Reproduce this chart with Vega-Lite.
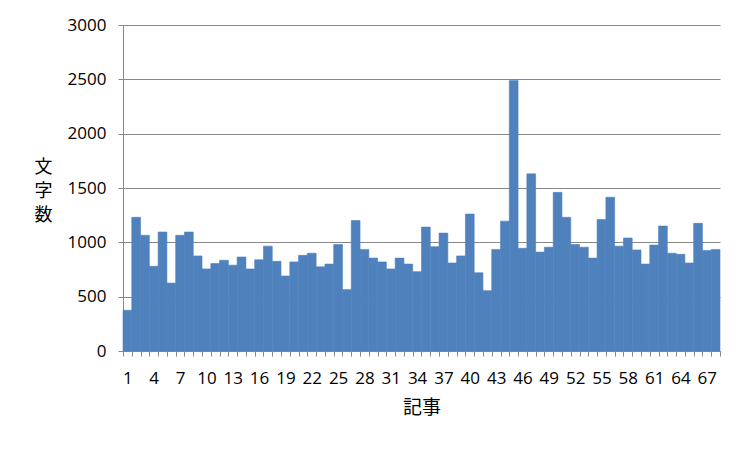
{
  "$schema": "https://vega.github.io/schema/vega-lite/v6.json",
  "width": 597,
  "height": 326,
  "autosize": "none",
  "padding": {"left": 123, "top": 25, "right": 29, "bottom": 100},
  "background": "white",
  "config": {"view": {"stroke": null}},
  "data": {"values": [
    {"n": 1, "v": 375}, {"n": 2, "v": 1230}, {"n": 3, "v": 1065}, {"n": 4, "v": 780},
    {"n": 5, "v": 1095}, {"n": 6, "v": 625}, {"n": 7, "v": 1065}, {"n": 8, "v": 1095},
    {"n": 9, "v": 875}, {"n": 10, "v": 755}, {"n": 11, "v": 805}, {"n": 12, "v": 835},
    {"n": 13, "v": 790}, {"n": 14, "v": 865}, {"n": 15, "v": 755}, {"n": 16, "v": 840},
    {"n": 17, "v": 965}, {"n": 18, "v": 825}, {"n": 19, "v": 690}, {"n": 20, "v": 820},
    {"n": 21, "v": 880}, {"n": 22, "v": 900}, {"n": 23, "v": 775}, {"n": 24, "v": 800},
    {"n": 25, "v": 980}, {"n": 26, "v": 565}, {"n": 27, "v": 1200}, {"n": 28, "v": 935},
    {"n": 29, "v": 855}, {"n": 30, "v": 820}, {"n": 31, "v": 755}, {"n": 32, "v": 855},
    {"n": 33, "v": 800}, {"n": 34, "v": 730}, {"n": 35, "v": 1140}, {"n": 36, "v": 960},
    {"n": 37, "v": 1085}, {"n": 38, "v": 810}, {"n": 39, "v": 875}, {"n": 40, "v": 1260},
    {"n": 41, "v": 720}, {"n": 42, "v": 555}, {"n": 43, "v": 935}, {"n": 44, "v": 1195},
    {"n": 45, "v": 2490}, {"n": 46, "v": 945}, {"n": 47, "v": 1630}, {"n": 48, "v": 910},
    {"n": 49, "v": 955}, {"n": 50, "v": 1460}, {"n": 51, "v": 1230}, {"n": 52, "v": 980},
    {"n": 53, "v": 955}, {"n": 54, "v": 855}, {"n": 55, "v": 1210}, {"n": 56, "v": 1415},
    {"n": 57, "v": 965}, {"n": 58, "v": 1040}, {"n": 59, "v": 930}, {"n": 60, "v": 800},
    {"n": 61, "v": 975}, {"n": 62, "v": 1150}, {"n": 63, "v": 900}, {"n": 64, "v": 890},
    {"n": 65, "v": 810}, {"n": 66, "v": 1175}, {"n": 67, "v": 925}, {"n": 68, "v": 935}
  ]},
  "mark": {"type": "bar", "color": "#4F81BD", "stroke": "#4F81BD", "strokeWidth": 0.6},
  "encoding": {
    "x": {
      "field": "n", "type": "ordinal", "sort": "ascending",
      "scale": {"paddingInner": 0, "paddingOuter": 0},
      "axis": {
        "title": "記事",
        "titleFont": "Noto Sans CJK JP", "titleFontSize": 19, "titleFontWeight": "normal",
        "titleColor": "#000000", "titlePadding": 12,
        "labelAngle": 0, "labelFont": "Open Sans", "labelFontSize": 17, "labelColor": "#000000",
        "labelPadding": 14, "labelOverlap": false,
        "labelExpr": "(datum.value - 1) % 3 == 0 ? datum.label : ''",
        "tickBand": "extent", "tickSize": 5, "tickColor": "#888888",
        "domainColor": "#888888", "grid": false
      }
    },
    "y": {
      "field": "v", "type": "quantitative",
      "scale": {"domain": [0, 3000], "nice": false},
      "axis": {
        "values": [0, 500, 1000, 1500, 2000, 2500, 3000],
        "format": "d",
        "title": ["文", "字", "数"],
        "titleAngle": 0, "titleAlign": "center", "titleBaseline": "middle",
        "titleX": -80, "titleY": 142, "titleLineHeight": 24,
        "titleFont": "Noto Sans CJK JP", "titleFontSize": 18, "titleFontWeight": "normal",
        "titleColor": "#000000",
        "labelFont": "Open Sans", "labelFontSize": 17, "labelColor": "#000000",
        "labelPadding": 12,
        "tickSize": 5, "tickColor": "#888888",
        "domainColor": "#888888",
        "grid": true, "gridColor": "#888888", "gridWidth": 1
      }
    }
  }
}
